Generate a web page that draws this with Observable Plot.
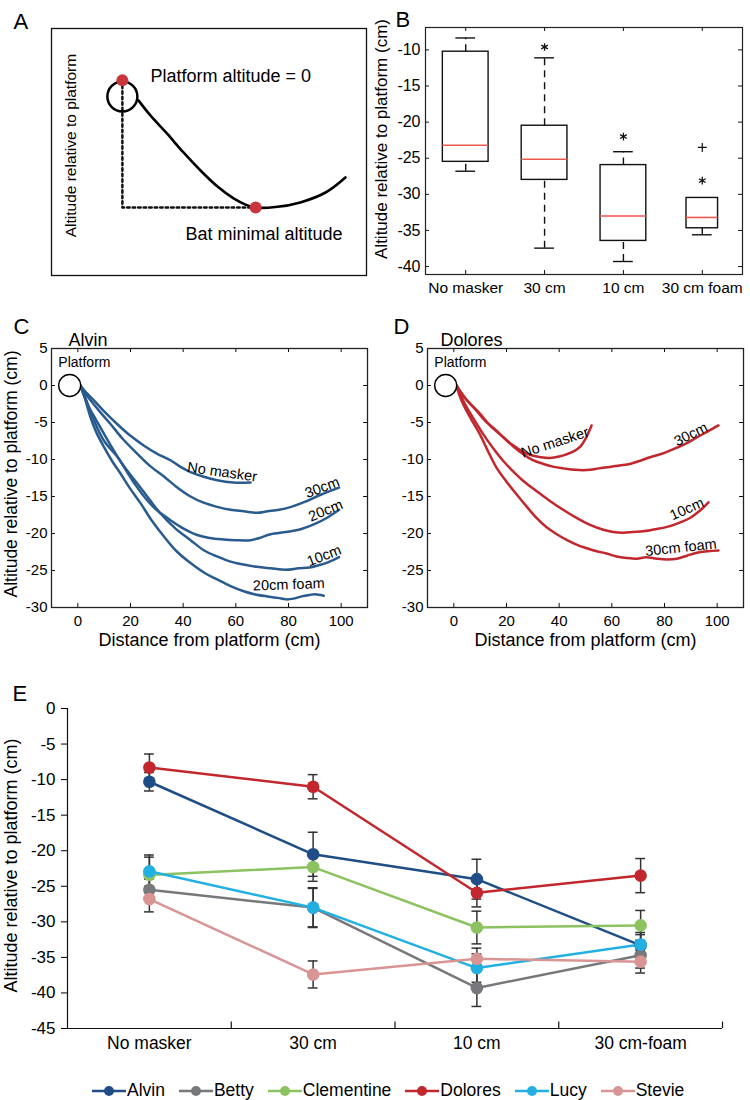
<!DOCTYPE html>
<html>
<head>
<meta charset="utf-8">
<script src="https://cdn.jsdelivr.net/npm/d3@7"></script>
<script src="https://cdn.jsdelivr.net/npm/@observablehq/plot@0.6"></script>
<style>
  body { margin: 0; background: #fff; }
  #fig { position: relative; width: 750px; height: 1100px; overflow: hidden; background: #fff;
         font-family: "Liberation Sans", Arial, Helvetica, sans-serif; }
  #legend { position: absolute; left: 92px; top: 1080px; display: flex; align-items: center;
            font-size: 17.5px; color: #000; white-space: nowrap; }
  #legend .item { display: flex; align-items: center; margin-right: 14px; }
  #legend svg { margin-right: 1px; }
</style>
</head>
<body>
<div id="fig"><div id="legend"></div></div>
<script>
// ---------------- Panel A: schematic ----------------
const schemCurveX = [27.6, 31.4, 36.7, 41.9, 47.3, 52.7, 57.8, 61.6, 64.8, 71.1, 79.0, 87.0, 93.3];
const schemCurveY = [70.9, 64.8, 57.4, 49.8, 42.5, 36.0, 31.2, 28.7, 27.5, 27.7, 29.6, 33.6, 39.7];
const schemGuideX = [22.5, 22.5, 64.8];
const schemGuideY = [79, 27.5, 27.5];
const schemDotX = [22.5, 64.8];
const schemDotY = [79, 27.5];
const schemCircleX = [22.5];
const schemCircleY = [72.5];

// ---------------- Panel B: box plot summary ----------------
const boxCats = ["No masker", "30 cm", "10 cm", "30 cm foam"];
const boxLo  = [-26.8, -37.45, -39.3, -35.6];
const boxQ1  = [-25.5, -28.0, -36.45, -34.7];
const boxMed = [-23.2, -25.15, -33.0, -33.2];
const boxQ3  = [-10.25, -20.5, -25.95, -30.5];
const boxHi  = [-8.35, -11.1, -24.1, -30.5];
const outlierCat = ["30 cm foam"];
const outlierVal = [-23.5];
const starCat = ["30 cm", "10 cm", "30 cm foam"];
const starVal = [-9.6, -22.0, -28.1];
const boxYTicks = [-10, -15, -20, -25, -30, -35, -40];

// ---------------- Panels C & D: trajectories ----------------
const trajXTicks = [0, 20, 40, 60, 80, 100];
const trajYTicks = [5, 0, -5, -10, -15, -20, -25, -30];

const alvinNoMasker = [[1,0],[3,-0.9],[6.1,-2],[10,-3.5],[14.9,-5.2],[20,-6.8],[25,-8.1],[30,-9.2],[35.2,-10.1],[39,-11],[42.8,-11.7],[47.5,-12.3],[52.9,-12.8],[59,-13.1],[65.6,-13.1]];
const alvin30cm = [[1,0],[2.5,-0.9],[4.8,-2],[8.5,-3.6],[12.4,-5.2],[17,-7.2],[22.5,-9.2],[27.5,-10.9],[32.7,-12.3],[37.5,-13.7],[42.8,-15],[47.5,-15.8],[52.9,-16.4],[58,-16.8],[63,-17],[68.1,-17.2],[72,-17.0],[76.4,-16.8],[81,-16.4],[86.4,-15.7],[92,-14.8],[99.2,-13.8]];
const alvin20cm = [[1,0],[2.5,-1.5],[4.2,-2.9],[7,-4.7],[9.9,-6.5],[13.5,-8.7],[17.5,-11],[22,-13.5],[26.3,-15.5],[30.5,-17],[35.2,-18.2],[40,-19.3],[45.3,-20.2],[50,-20.6],[55.4,-20.8],[60,-20.9],[65.6,-20.9],[69,-20.6],[73.2,-20.1],[79,-19.8],[83.9,-19.5],[90,-18.7],[95,-17.8],[99.2,-16.8]];
const alvin10cm = [[1,0],[3,-1.8],[6.1,-4.7],[10,-7.5],[14.9,-9.6],[18.5,-11.4],[22.5,-13.2],[27,-15.3],[31.4,-17.3],[37,-19.3],[42.8,-20.9],[48,-22.3],[52.9,-23.1],[58,-23.8],[63,-24.2],[68,-24.5],[73.2,-24.7],[79,-24.9],[83.9,-24.7],[88,-24.6],[91.4,-24.3],[95,-23.9],[99.2,-23.2]];
const alvin20cmFoam = [[1,0],[2.5,-1.5],[4.8,-4.3],[7,-6.3],[9.9,-8.3],[13,-10.2],[16.2,-11.9],[20,-14],[23.8,-15.9],[28,-18.2],[32.7,-20.4],[37.5,-22.4],[42.8,-24],[48,-25.3],[52.9,-26.2],[58,-27.1],[63,-27.8],[67,-28.2],[71.9,-28.5],[76,-28.7],[79,-28.9],[82,-28.8],[85,-28.5],[88,-28.3],[90,-28.2],[93.4,-28.4]];
const alvinLabelText  = ["No masker", "30cm", "20cm", "10cm", "20cm foam"];
const alvinLabelX     = [54.8, 92.8, 94.1, 93.5, 80.1];
const alvinLabelY     = [-11.7, -13.8, -16.9, -23.0, -26.9];
const alvinLabelAngle = [8, -21, -23, -21, -2];

const doloresNoMasker = [[1,0],[4,-1.6],[8.6,-3.4],[12,-4.8],[16.2,-6.1],[20,-7.4],[23.8,-8.4],[27,-9.1],[30.2,-9.5],[33,-9.7],[36.5,-9.8],[40,-9.6],[42.8,-9.3],[45.5,-8.9],[47.9,-8.3],[50,-7.2],[52.3,-5.4]];
const dolores30cm = [[1,0],[4.5,-1.8],[9.9,-3.8],[14,-5.5],[18.8,-7],[22.5,-8.2],[26.4,-9.3],[30,-10.1],[34,-10.6],[38,-11],[41.6,-11.2],[46,-11.4],[51.7,-11.4],[55,-11.2],[59.3,-11],[63,-10.8],[66.9,-10.6],[70.5,-10.2],[74.5,-9.7],[80,-9.1],[84.7,-8.4],[88.5,-7.8],[92.3,-7],[96.5,-6.2],[100.5,-5.4]];
const dolores10cm = [[1,0],[2.8,-1.5],[4.8,-2.9],[8,-4.8],[11.2,-6.6],[15,-8.5],[18.8,-10.2],[22.5,-11.6],[26.4,-12.9],[31.5,-14.3],[36.5,-15.6],[41.5,-16.8],[46.6,-17.9],[51.5,-18.8],[56.8,-19.5],[60.5,-19.8],[64.4,-19.9],[68,-19.8],[72,-19.7],[77,-19.4],[82.1,-19],[86,-18.5],[89.7,-17.9],[93.5,-16.9],[96.7,-15.8]];
const dolores30cmFoam = [[1,0],[2,-1.2],[3.5,-2.5],[6.5,-4.5],[9.9,-6.6],[13,-8.9],[16.2,-11.1],[20,-13],[23.8,-14.7],[27.5,-16.3],[31.4,-17.9],[35,-19.1],[39.1,-20.1],[43,-20.9],[46.6,-21.5],[50.5,-22],[54.2,-22.4],[58,-22.7],[61.8,-23.1],[65.5,-23.3],[69.5,-23.4],[73,-23.2],[77.1,-23.4],[81,-23.5],[84.7,-23.4],[88.5,-23],[92.3,-22.6],[96.5,-22.4],[100.5,-22.3]];
const doloresLabelText  = ["No masker", "30cm", "10cm", "30cm foam"];
const doloresLabelX     = [38.4, 90.0, 88.5, 86.2];
const doloresLabelY     = [-7.7, -6.6, -16.7, -21.9];
const doloresLabelAngle = [-18, -27, -24, -6];

// ---------------- Panel E: mean ± error per bat ----------------
const conditions = ["No masker", "30 cm", "10 cm", "30 cm-foam"];
const bats = ["Alvin", "Betty", "Clementine", "Dolores", "Lucy", "Stevie"];
const batColors = ["#1f4e86", "#77787b", "#8dc261", "#c1272d", "#22b0e3", "#d99594"];
const alvinMean      = [-10.3, -20.5, -24.0, -33.3];
const alvinErr       = [1.3, 3.1, 2.8, 1.5];
const bettyMean      = [-25.5, -28.0, -39.3, -34.7];
const bettyErr       = [1.5, 2.8, 2.6, 1.8];
const clementineMean = [-23.4, -22.3, -30.8, -30.5];
const clementineErr  = [2.5, 2.0, 2.3, 2.1];
const doloresMean    = [-8.3, -11.0, -25.9, -23.5];
const doloresErr     = [1.9, 1.7, 2.0, 2.4];
const lucyMean       = [-22.9, -28.0, -36.5, -33.2];
const lucyErr        = [2.3, 2.7, 2.0, 1.7];
const stevieMean     = [-26.8, -37.4, -35.2, -35.6];
const stevieErr      = [1.8, 1.9, 1.5, 1.6];
const eYTicks = [0, -5, -10, -15, -20, -25, -30, -35, -40, -45];

// =====================================================
const FONT = '"Liberation Sans", Arial, Helvetica, sans-serif';
const fig = document.getElementById("fig");
function place(node, left, top) {
  node.style.position = "absolute";
  node.style.left = left + "px";
  node.style.top = top + "px";
  fig.appendChild(node);
}
const baseStyle = {fontFamily: FONT, fontSize: "15px", background: "transparent", overflow: "visible", color: "#000"};

// ---------- A ----------
const aCurve = schemCurveX.map((x, i) => ({x, y: schemCurveY[i]}));
const aGuide = schemGuideX.map((x, i) => ({x, y: schemGuideY[i]}));
const aDots = schemDotX.map((x, i) => ({x, y: schemDotY[i]}));
const aCircle = schemCircleX.map((x, i) => ({x, y: schemCircleY[i]}));
const plotA = Plot.plot({
  width: 370, height: 280, marginLeft: 51, marginTop: 28, marginRight: 4, marginBottom: 5,
  x: {domain: [0, 100], axis: null}, y: {domain: [0, 100], axis: null},
  style: baseStyle,
  marks: [
    Plot.frame({stroke: "#111", strokeWidth: 1.3}),
    Plot.line(aGuide, {x: "x", y: "y", stroke: "#111", strokeWidth: 2.5, strokeDasharray: "2.5,3"}),
    Plot.line(aCurve, {x: "x", y: "y", stroke: "#000", strokeWidth: 2.6, curve: "catmull-rom"}),
    Plot.dot(aCircle, {x: "x", y: "y", r: 15, stroke: "#000", strokeWidth: 2.5, fill: "none"}),
    Plot.dot(aDots, {x: "x", y: "y", r: 6, fill: "#c8353c"}),
    Plot.text(["Platform altitude = 0"], {x: 31.4, y: 80.6, textAnchor: "start", fontSize: 18}),
    Plot.text(["Bat minimal altitude"], {x: 42.5, y: 16.6, textAnchor: "start", fontSize: 18}),
    Plot.text(["Altitude relative to platform"], {x: 6.3, y: 52.6, rotate: -90, textAnchor: "middle", fontSize: 15.5}),
    Plot.text(["A"], {frameAnchor: "top-left", dx: -38, dy: -15.5, textAnchor: "start", fontSize: 22})
  ]
});
place(plotA, 0, 0);

// ---------- B ----------
const bDomY = [-41.1, -6.9], bDomX = [0.49, 4.51];
const boxRows = boxCats.map((c, i) => ({
  c, i: i + 1, lo: boxLo[i], q1: boxQ1[i], med: boxMed[i], q3: boxQ3[i], hi: boxHi[i],
  hw: c === "30 cm foam" ? 0.2 : 0.29
}));
const idxOf = c => boxCats.indexOf(c) + 1;
const outRows = outlierCat.map((c, k) => ({x: idxOf(c), y: outlierVal[k]}));
const starRows = starCat.map((c, k) => ({x: idxOf(c), y: starVal[k]}));
const capHalf = 0.125;
const plotB = Plot.plot({
  width: 380, height: 300, marginLeft: 55, marginRight: 8, marginTop: 27, marginBottom: 26,
  x: {domain: bDomX, axis: null}, y: {domain: bDomY, axis: null},
  style: baseStyle,
  marks: [
    Plot.ruleX(boxRows, {x: "i", y1: "q3", y2: "hi", stroke: "#111", strokeWidth: 1.4, strokeDasharray: "7,5"}),
    Plot.ruleX(boxRows, {x: "i", y1: "lo", y2: "q1", stroke: "#111", strokeWidth: 1.4, strokeDasharray: "7,5"}),
    Plot.ruleY(boxRows, {y: "hi", x1: d => d.i - capHalf, x2: d => d.i + capHalf, stroke: "#111", strokeWidth: 1.4}),
    Plot.ruleY(boxRows, {y: "lo", x1: d => d.i - capHalf, x2: d => d.i + capHalf, stroke: "#111", strokeWidth: 1.4}),
    Plot.rect(boxRows, {x1: d => d.i - d.hw, x2: d => d.i + d.hw, y1: "q1", y2: "q3", fill: "white", stroke: "#111", strokeWidth: 1.4}),
    Plot.ruleY(boxRows, {y: "med", x1: d => d.i - d.hw, x2: d => d.i + d.hw, stroke: "#ec5a4b", strokeWidth: 1.6}),
    Plot.dot(outRows, {x: "x", y: "y", symbol: "plus", r: 3, stroke: "#111", strokeWidth: 1.2}),
    Plot.dot(starRows, {x: "x", y: "y", symbol: "asterisk", r: 3.6, stroke: "#111", strokeWidth: 1.3}),
    // inward ticks
    Plot.ruleY(boxYTicks, {x1: bDomX[0], x2: bDomX[0] + 0.05, stroke: "#111"}),
    Plot.ruleY(boxYTicks, {x1: bDomX[1], x2: bDomX[1] - 0.05, stroke: "#111"}),
    Plot.ruleX([1, 2, 3, 4], {y1: bDomY[0], y2: bDomY[0] + 0.55, stroke: "#111"}),
    Plot.ruleX([1, 2, 3, 4], {y1: bDomY[1], y2: bDomY[1] - 0.55, stroke: "#111"}),
    Plot.frame({stroke: "#222", strokeWidth: 1.2}),
    Plot.axisY({ticks: boxYTicks, tickSize: 0, tickPadding: 5, tickFormat: d => String(d), fontSize: 16, label: null}),
    Plot.axisX({ticks: [1, 2, 3, 4], tickSize: 0, tickPadding: 7, tickFormat: d => boxCats[d - 1], fontSize: 15.5, label: null}),
    Plot.text(["Altitude relative to platform (cm)"], {frameAnchor: "left", dx: -44, dy: -12, rotate: -90, textAnchor: "middle", fontSize: 17}),
    Plot.text(["B"], {frameAnchor: "top-left", dx: -30, dy: -16.5, textAnchor: "start", fontSize: 22})
  ]
});
place(plotB, 370, 0);

// ---------- C & D ----------
function trajPanel({tracks, color, labelText, labelX, labelY, labelAngle, letter, title, titleDx, letterDx, yLabel, width}) {
  const rows = tracks.flatMap(([name, pts]) => pts.map(([x, y]) => ({name, x, y})));
  const labels = labelText.map((t, i) => ({t, x: labelX[i], y: labelY[i], a: labelAngle[i]}));
  const marks = [
    Plot.ruleX(trajXTicks, {y1: -30, y2: -29.45, stroke: "#111"}),
    Plot.ruleX(trajXTicks, {y1: 5, y2: 4.45, stroke: "#111"}),
    Plot.ruleY(trajYTicks, {x1: -10, x2: -8.5, stroke: "#111"}),
    Plot.ruleY(trajYTicks, {x1: 110, x2: 108.5, stroke: "#111"}),
    Plot.frame({stroke: "#222", strokeWidth: 1.3}),
    Plot.line(rows, {x: "x", y: "y", z: "name", stroke: color, strokeWidth: 2.5, curve: "catmull-rom"}),
    Plot.dot([{x: -3.1, y: 0}], {x: "x", y: "y", r: 11, fill: "white", stroke: "#000", strokeWidth: 1.4}),
    Plot.text(["Platform"], {x: 2.5, y: 3.15, fontSize: 14}),
    Plot.text(labels, {x: "x", y: "y", text: "t", rotate: "a", fontSize: 14.5}),
    Plot.axisX({ticks: trajXTicks, tickSize: 0, tickPadding: 8, tickFormat: d => String(d), fontSize: 15, label: null}),
    Plot.axisY({ticks: trajYTicks, tickSize: 0, tickPadding: 4, tickFormat: d => String(d), fontSize: 15, label: null}),
    Plot.text(["Distance from platform (cm)"], {frameAnchor: "bottom", dy: 38, fontSize: 18}),
    Plot.text([title], {frameAnchor: "top-left", dx: titleDx, dy: -15, textAnchor: "start", fontSize: 18}),
    Plot.text([letter], {frameAnchor: "top-left", dx: letterDx, dy: -30, textAnchor: "start", fontSize: 22})
  ];
  if (yLabel) marks.push(Plot.text([yLabel], {frameAnchor: "left", dx: -40, dy: -4, rotate: -90, textAnchor: "middle", fontSize: 17.5}));
  return Plot.plot({
    width, height: 360, marginLeft: 51, marginRight: width - 367, marginTop: 48, marginBottom: 53,
    x: {domain: [-10, 110], axis: null}, y: {domain: [-30, 5], axis: null},
    style: baseStyle,
    marks
  });
}
const plotC = trajPanel({
  tracks: [["No masker", alvinNoMasker], ["30cm", alvin30cm], ["20cm", alvin20cm], ["10cm", alvin10cm], ["20cm foam", alvin20cmFoam]],
  color: "#2a5b8e", labelText: alvinLabelText, labelX: alvinLabelX, labelY: alvinLabelY, labelAngle: alvinLabelAngle,
  letter: "C", title: "Alvin", titleDx: 17, letterDx: -38, yLabel: "Altitude relative to platform (cm)", width: 375
});
place(plotC, 0, 300);
const plotD = trajPanel({
  tracks: [["No masker", doloresNoMasker], ["30cm", dolores30cm], ["10cm", dolores10cm], ["30cm foam", dolores30cmFoam]],
  color: "#c1272d", labelText: doloresLabelText, labelX: doloresLabelX, labelY: doloresLabelY, labelAngle: doloresLabelAngle,
  letter: "D", title: "Dolores", titleDx: 13, letterDx: -34, yLabel: null, width: 375
});
place(plotD, 376, 300);

// ---------- E ----------
const meansByBat = [alvinMean, bettyMean, clementineMean, doloresMean, lucyMean, stevieMean];
const errsByBat = [alvinErr, bettyErr, clementineErr, doloresErr, lucyErr, stevieErr];
const eRows = bats.flatMap((b, j) => conditions.map((c, i) => ({bat: b, xi: i + 0.5, v: meansByBat[j][i], e: errsByBat[j][i]})));
const eCap = 0.03;
const plotE = Plot.plot({
  width: 750, height: 390, marginLeft: 67, marginRight: 28, marginTop: 38, marginBottom: 32,
  x: {domain: [0, 4], axis: null}, y: {domain: [-45, 0], axis: null},
  color: {domain: bats, range: batColors},
  style: baseStyle,
  marks: [
    Plot.ruleX([0], {y1: -45, y2: 0, stroke: "#111", strokeWidth: 1.2}),
    Plot.ruleY([-45], {x1: 0, x2: 4, stroke: "#111", strokeWidth: 1.2}),
    Plot.ruleX([1, 2, 3, 4], {y1: -45, y2: -44.1, stroke: "#111", strokeWidth: 1.2}),
    Plot.axisY({ticks: eYTicks, tickSize: 6, tickPadding: 6, tickFormat: d => String(d), fontSize: 17, label: null}),
    Plot.axisX({ticks: [0.5, 1.5, 2.5, 3.5], tickSize: 0, tickPadding: 8, tickFormat: d => conditions[Math.floor(d)], fontSize: 17.5, label: null}),
    Plot.line(eRows, {x: "xi", y: "v", z: "bat", stroke: "bat", strokeWidth: 2.5}),
    Plot.ruleX(eRows, {x: "xi", y1: d => d.v - d.e, y2: d => d.v + d.e, stroke: "#333", strokeWidth: 1.5}),
    Plot.ruleY(eRows, {y: d => d.v + d.e, x1: d => d.xi - eCap, x2: d => d.xi + eCap, stroke: "#333", strokeWidth: 1.5}),
    Plot.ruleY(eRows, {y: d => d.v - d.e, x1: d => d.xi - eCap, x2: d => d.xi + eCap, stroke: "#333", strokeWidth: 1.5}),
    Plot.dot(eRows, {x: "xi", y: "v", fill: "bat", r: 6.3}),
    Plot.text(["Altitude relative to platform (cm)"], {frameAnchor: "left", dx: -56, dy: -3, rotate: -90, textAnchor: "middle", fontSize: 18}),
    Plot.text(["E"], {frameAnchor: "top-left", dx: -55, dy: -23, textAnchor: "start", fontSize: 22})
  ]
});
place(plotE, 0, 670);

// ---------- Legend ----------
const legend = document.getElementById("legend");
fig.appendChild(legend);
bats.forEach((b, i) => {
  const item = document.createElement("div");
  item.className = "item";
  item.innerHTML = `<svg width="34" height="14"><line x1="0" x2="34" y1="7" y2="7" stroke="${batColors[i]}" stroke-width="2.5"/><circle cx="17" cy="7" r="5" fill="${batColors[i]}"/></svg><span>${b}</span>`;
  legend.appendChild(item);
});
</script>
</body>
</html>
